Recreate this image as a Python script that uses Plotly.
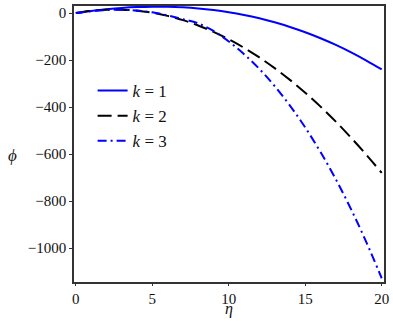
import plotly.graph_objects as go

eta = list(range(0, 21))
phi_k1 = [0, 9, 16, 21.6, 25.3, 27.0, 26.7, 24.3, 19.8, 12.9, 3.6, -8.1, -22.4,
          -39.4, -59.1, -81.6, -107.1, -135.5, -167.2, -202.1, -240]
phi_k2 = [0, 9.4, 14.3, 14.5, 10.2, 1.4, -12.1, -30.1, -52.7, -79.9, -111.6,
          -147.9, -188.8, -234.2, -284.3, -338.9, -398.0, -461.7, -530.5, -603.1, -680]
phi_k3 = [0, 8, 13, 14, 11, 3, -10, -26, -44, -76.1, -121, -174.8, -237.8,
          -310.6, -393.5, -486.9, -591.5, -707.4, -835.1, -975.2, -1128]

x_ticks = [0, 5, 10, 15, 20]
y_ticks = [0, -200, -400, -600, -800, -1000]
y_ticktext = ["0", "−200", "−400", "−600", "−800", "−1000"]
labels = ["<i>k</i> = 1", "<i>k</i> = 2", "<i>k</i> = 3"]

FONT = "Times New Roman, Liberation Serif, DejaVu Serif, serif"
tf = dict(family=FONT, size=15, color="#111")

fig = go.Figure()
fig.add_trace(go.Scatter(x=eta, y=phi_k1, mode="lines", name=labels[0],
                         line=dict(color="#0000ff", width=2, shape="spline")))
fig.add_trace(go.Scatter(x=eta, y=phi_k2, mode="lines", name=labels[1],
                         line=dict(color="#000000", width=2, dash="14px,6px", shape="spline")))
fig.add_trace(go.Scatter(x=eta, y=phi_k3, mode="lines", name=labels[2],
                         line=dict(color="#0000ff", width=2, dash="9px,4px,2px,4px", shape="spline")))

fig.update_layout(
    width=393, height=321,
    margin=dict(l=74, r=9, t=4, b=39),
    paper_bgcolor="white", plot_bgcolor="white",
    font=tf,
    showlegend=True,
    legend=dict(x=0.06, y=0.757, xanchor="left", yanchor="top",
                bgcolor="rgba(0,0,0,0)", font=dict(family=FONT, size=17, color="#111"),
                tracegroupgap=0, itemwidth=30),
    xaxis=dict(range=[-0.12, 20.15], tickvals=x_ticks, ticks="outside", ticklen=2,
               showline=True, mirror=True, linecolor="#333", linewidth=1.5,
               showgrid=False, zeroline=False, tickcolor="#333", tickfont=tf),
    yaxis=dict(range=[-1144, 30], tickvals=y_ticks, ticktext=y_ticktext,
               ticks="outside", ticklen=3,
               showline=True, mirror=True, linecolor="#333", linewidth=1.5,
               showgrid=False, zeroline=False, tickcolor="#333", tickfont=tf),
    annotations=[
        dict(text="<i>η</i>", xref="paper", yref="paper", x=0.5, y=-0.138,
             xanchor="center", yanchor="bottom", showarrow=False,
             font=dict(family=FONT, size=16, color="#111")),
        dict(text="<i>ϕ</i>", xref="paper", yref="paper", x=-0.2, y=0.46,
             xanchor="center", yanchor="middle", showarrow=False,
             font=dict(family=FONT, size=17, color="#111")),
    ],
)

fig.write_html("out.html", config={"displayModeBar": False},
               post_script="document.body.style.margin='0';")
